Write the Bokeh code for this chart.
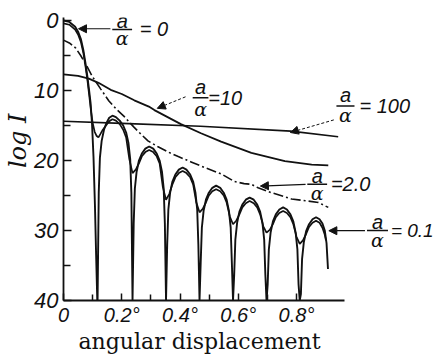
from bokeh.plotting import figure
from bokeh.models import Range1d, FixedTicker, Arrow, NormalHead, Title
from bokeh.core.properties import value
from bokeh.embed import file_html
from bokeh.resources import INLINE

# ---------------- data ----------------
X_TICKS = [0, 0.2, 0.4, 0.6, 0.8]
X_TICK_LABELS = ["0", "0.2°", "0.4°", "0.6°", "0.8°"]
X_MINOR = [0.1, 0.3, 0.5, 0.7]
Y_TICKS = [0, 10, 20, 30, 40]
Y_MINOR = [5, 15, 25, 35]

# a/alpha = 0  (pattern with true zeros)
A0_X = [0.0, 0.02, 0.04, 0.05, 0.06, 0.068, 0.075, 0.082, 0.088, 0.093, 0.098, 0.103, 0.108, 0.112, 0.116,
        0.117, 0.121, 0.125, 0.131, 0.139, 0.148, 0.157, 0.168, 0.18, 0.193, 0.205, 0.215, 0.223, 0.229, 0.233, 0.237,
        0.241, 0.245, 0.251, 0.259, 0.269, 0.281, 0.294, 0.308, 0.32, 0.33, 0.338, 0.344, 0.348, 0.352,
        0.356, 0.36, 0.366, 0.374, 0.384, 0.396, 0.409, 0.422, 0.435, 0.445, 0.453, 0.459, 0.463, 0.467,
        0.471, 0.475, 0.481, 0.489, 0.499, 0.511, 0.524, 0.538, 0.55, 0.56, 0.568, 0.574, 0.578, 0.582,
        0.586, 0.59, 0.596, 0.604, 0.614, 0.626, 0.639, 0.653, 0.665, 0.675, 0.683, 0.689, 0.693, 0.697,
        0.701, 0.705, 0.711, 0.719, 0.729, 0.741, 0.754, 0.767, 0.779, 0.789, 0.797, 0.803, 0.807, 0.811,
        0.815, 0.819, 0.825, 0.833, 0.843, 0.855, 0.867, 0.879, 0.889, 0.897, 0.903, 0.906, 0.908]
A0_Y = [0.0, 0.2, 0.9, 1.6, 2.7, 4.2, 6.0, 8.0, 10.0, 11.8, 14.8, 19.5, 26.5, 33.5, 40.0,
        40.0, 24.6, 19.6, 17.2, 15.6, 14.6, 13.9, 13.6, 13.8, 14.3, 15.0, 16.0, 17.5, 19.8, 24.6, 40.0,
        29.0, 24.0, 21.6, 20.0, 19.0, 18.3, 18.0, 18.3, 19.0, 20.0, 21.6, 24.0, 29.0, 40.0,
        32.0, 27.0, 24.6, 23.0, 22.0, 21.3, 21.0, 21.3, 22.0, 23.0, 24.6, 27.0, 32.0, 40.0,
        34.6, 29.6, 27.2, 25.6, 24.6, 23.9, 23.6, 23.9, 24.6, 25.6, 27.2, 29.6, 34.6, 40.0,
        36.3, 31.3, 28.9, 27.3, 26.3, 25.6, 25.3, 25.6, 26.3, 27.3, 28.9, 31.3, 36.3, 40.0,
        37.7, 32.7, 30.3, 28.7, 27.7, 27.0, 26.7, 27.0, 27.7, 28.7, 30.3, 32.7, 37.7, 40.0,
        39.1, 34.1, 31.7, 30.1, 29.1, 28.4, 28.1, 28.4, 29.0, 30.0, 31.8, 34.0, 35.5]

# a/alpha = 0.1
A01_X = [0.0, 0.02, 0.04, 0.05, 0.06, 0.068, 0.075, 0.082, 0.088, 0.094, 0.1, 0.107, 0.114, 0.12,
         0.127, 0.135, 0.146, 0.157, 0.168, 0.18, 0.193, 0.205, 0.215, 0.226, 0.237,
         0.248, 0.259, 0.269, 0.281, 0.294, 0.308, 0.32, 0.33, 0.341, 0.352,
         0.363, 0.374, 0.384, 0.396, 0.409, 0.422, 0.435, 0.445, 0.456, 0.467,
         0.478, 0.489, 0.499, 0.511, 0.524, 0.538, 0.55, 0.56, 0.571, 0.582,
         0.593, 0.604, 0.614, 0.626, 0.639, 0.653, 0.665, 0.675, 0.686, 0.697,
         0.708, 0.719, 0.729, 0.741, 0.754, 0.767, 0.779, 0.789, 0.8, 0.811,
         0.822, 0.833, 0.843, 0.855, 0.867, 0.879, 0.889, 0.897, 0.901]
A01_Y = [0.4, 0.6, 1.3, 2.0, 3.1, 4.6, 6.4, 8.5, 10.6, 12.8, 14.6, 15.9, 16.5, 16.7,
         16.2, 15.6, 15.0, 14.4, 14.1, 14.3, 14.8, 15.6, 16.7, 19.8, 21.8,
         21.3, 20.4, 19.4, 18.8, 18.5, 18.8, 19.4, 20.4, 23.8, 25.6,
         24.8, 23.4, 22.4, 21.8, 21.5, 21.8, 22.4, 23.4, 26.0, 27.4,
         26.9, 26.0, 25.0, 24.4, 24.1, 24.4, 25.0, 26.0, 28.0, 29.1,
         28.6, 27.7, 26.7, 26.1, 25.8, 26.1, 26.7, 27.7, 29.4, 30.3,
         29.9, 29.1, 28.1, 27.5, 27.2, 27.5, 28.1, 29.1, 30.9, 31.9,
         31.4, 30.5, 29.5, 28.9, 28.6, 28.9, 29.6, 30.6, 31.4]

# a/alpha = 2.0 (dash-dot)
A2_X = [0.0, 0.02, 0.041, 0.059, 0.076, 0.099, 0.128, 0.156, 0.18, 0.208, 0.241, 0.26, 0.29, 0.323,
        0.36, 0.392, 0.438, 0.484, 0.541, 0.587, 0.62, 0.645, 0.668, 0.714, 0.783, 0.84, 0.875, 0.909]
A2_Y = [2.8, 3.2, 3.9, 5.0, 6.2, 8.0, 9.8, 11.5, 12.6, 13.7, 15.2, 16.0, 17.2, 18.0,
        18.8, 19.4, 20.2, 21.0, 21.9, 23.0, 23.3, 23.4, 23.9, 24.6, 25.5, 25.8, 26.0, 26.7]

# a/alpha = 10
A10_X = [0.0, 0.05, 0.087, 0.12, 0.162, 0.2, 0.243, 0.293, 0.312, 0.403, 0.472, 0.541, 0.645, 0.76, 0.852, 0.909]
A10_Y = [7.7, 7.9, 8.3, 8.9, 9.9, 10.5, 11.4, 12.3, 12.8, 14.8, 16.1, 17.3, 18.9, 20.1, 20.6, 20.7]

# a/alpha = 100
A100_X = [0.0, 0.2, 0.47, 0.78, 0.943]
A100_Y = [14.4, 14.7, 15.1, 15.8, 16.6]

# ---------------- figure ----------------
INK = "#111111"
NUM_FONT = "Liberation Sans"

p = figure(width=437, height=355, output_backend="svg", toolbar_location=None,
           x_range=Range1d(0, 1.284), y_range=Range1d(40, -0.43),
           min_border_left=63, min_border_right=0, min_border_top=17, min_border_bottom=53)
p.outline_line_color = None
p.xgrid.visible = False
p.ygrid.visible = False
p.background_fill_color = "white"
p.border_fill_color = "white"

for ax in (p.xaxis[0], p.yaxis[0]):
    ax.axis_line_color = INK
    ax.axis_line_width = 1.8
    ax.major_tick_line_color = INK
    ax.minor_tick_line_color = INK
    ax.major_tick_line_width = 1.5
    ax.minor_tick_line_width = 1.5
    ax.major_tick_out = 0
    ax.minor_tick_out = 0
    ax.major_label_text_font = NUM_FONT
    ax.major_label_text_font_style = "italic"
    ax.major_label_text_color = INK

xa = p.xaxis[0]
xa.bounds = (0, 0.965)
xa.ticker = FixedTicker(ticks=X_TICKS, minor_ticks=X_MINOR)
xa.major_label_overrides = {t: l for t, l in zip(X_TICKS, X_TICK_LABELS)}
xa.major_tick_in = 7
xa.minor_tick_in = 6
xa.major_label_text_font_size = "20px"
xa.major_label_standoff = 3

ya = p.yaxis[0]
ya.ticker = FixedTicker(ticks=Y_TICKS, minor_ticks=Y_MINOR)
ya.major_tick_in = 8
ya.minor_tick_in = 7
ya.major_label_text_font_size = "22px"
ya.major_label_standoff = 5

# axis titles (as side titles so they can sit where the source puts them)
p.add_layout(Title(text="angular displacement", align="left", offset=15, standoff=0,
                   vertical_align="top",
                   text_font="DejaVu Serif", text_font_style="normal", text_font_size="22px",
                   text_color=INK), "below")
p.add_layout(Title(text="log I", align="right", offset=96, standoff=0,
                   text_font="DejaVu Serif", text_font_style="italic", text_font_size="24px",
                   text_color=INK), "left")

# curves
p.line(A0_X, A0_Y, line_color=INK, line_width=1.9)
p.line(A01_X, A01_Y, line_color=INK, line_width=1.7)
p.line(A2_X, A2_Y, line_color=INK, line_width=1.6, line_dash="10 3 2 3")
p.line(A10_X, A10_Y, line_color=INK, line_width=1.8)
p.line(A100_X, A100_Y, line_color=INK, line_width=1.6)

# annotation labels: fraction a/alpha = value
LBL_FONT = "Liberation Sans"

def frac_label(xc, ya_, ybar, yal, half, xeq, txt, size="20px"):
    p.text([xc], [ya_], text=["a"], text_font=value(LBL_FONT), text_font_style="italic",
           text_font_size="20px", text_align="center", text_baseline="middle", text_color=INK)
    p.segment([xc - half], [ybar], [xc + half], [ybar], line_color=INK, line_width=1.5)
    p.text([xc], [yal], text=["α"], text_font=value("DejaVu Serif"), text_font_style="italic",
           text_font_size="19px", text_align="center", text_baseline="middle", text_color=INK)
    p.text([xeq], [ybar], text=[txt], text_font=value(LBL_FONT), text_font_style="italic",
           text_font_size=size, text_align="left", text_baseline="middle", text_color=INK)

frac_label(0.2015, 0.0, 1.28, 2.45, 0.034, 0.262, "= 0")
frac_label(0.4705, 9.5, 11.05, 12.6, 0.027, 0.497, "=10")
frac_label(0.968, 10.7, 12.2, 13.5, 0.031, 1.016, "= 100")
frac_label(0.871, 22.2, 23.4, 24.7, 0.034, 0.918, "=2.0")
frac_label(1.078, 28.8, 30.0, 31.3, 0.036, 1.124, "= 0.1", size="19px")

# arrows
def arrow(x0, y0, x1, y1, dash="solid", lw=1.2):
    p.add_layout(Arrow(end=NormalHead(size=8, fill_color=INK, line_color=INK, line_width=1),
                       x_start=x0, y_start=y0, x_end=x1, y_end=y1,
                       line_color=INK, line_width=lw, line_dash=dash))

arrow(0.161, 1.18, 0.0515, 1.18)
arrow(0.419, 10.9, 0.322, 12.55, dash="3 2", lw=1.0)
arrow(0.928, 14.2, 0.779, 16.0, dash="3 2", lw=1.0)
arrow(0.831, 23.4, 0.676, 23.65)
arrow(1.035, 30.03, 0.911, 30.03)

open("out.html", "w").write(file_html(p, INLINE))
